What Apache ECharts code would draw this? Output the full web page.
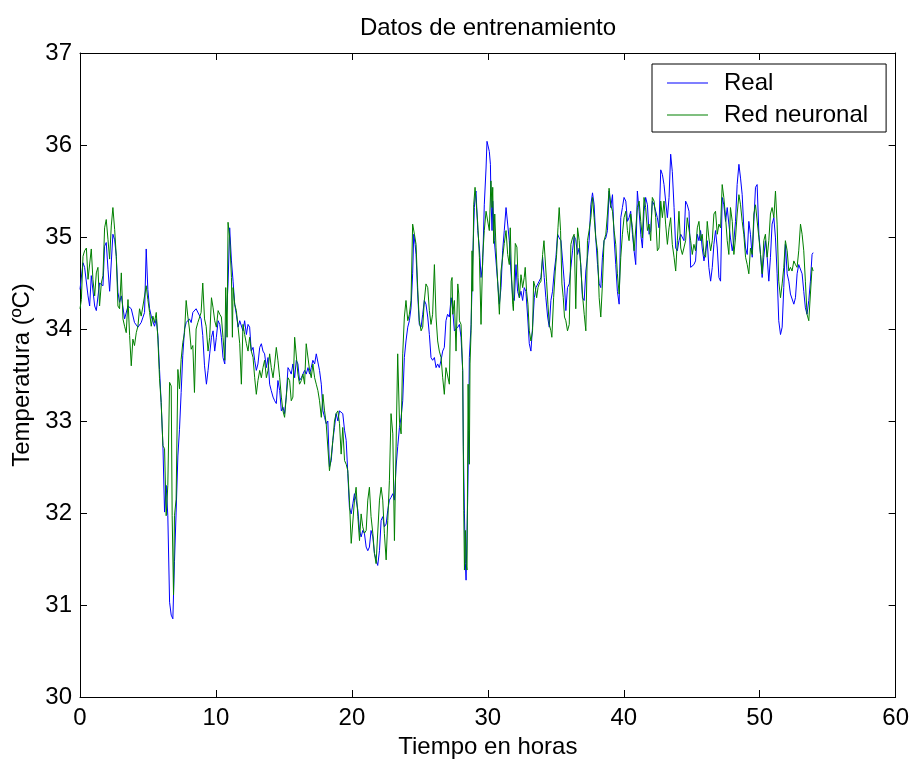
<!DOCTYPE html>
<html>
<head>
<meta charset="utf-8">
<script src="https://cdn.jsdelivr.net/npm/echarts@6/dist/echarts.min.js"></script>
<style>
html,body{margin:0;padding:0;background:#fff;}
#chart{width:912px;height:764px;}
</style>
</head>
<body>
<div id="chart"></div>
<script>
// ---- Data ----
var titleText = 'Datos de entrenamiento';
var xAxisName = 'Tiempo en horas';
var yAxisName = 'Temperatura (ºC)';
var seriesNames = ['Real', 'Red neuronal'];
var xTicks = [0, 10, 20, 30, 40, 50, 60];
var yTicks = [30, 31, 32, 33, 34, 35, 36, 37];

var realHours = [0,0.22,0.34,0.59,0.71,0.83,1.08,1.20,1.44,1.69,1.81,1.93,2.06,2.18,2.30,2.42,2.55,2.67,2.79,2.91,3.04,3.28,3.53,3.77,4.01,4.26,4.50,4.75,4.87,4.99,5.12,5.24,5.48,5.61,5.73,5.85,5.97,6.10,6.22,6.34,6.46,6.59,6.71,6.83,6.95,7.07,7.20,7.32,7.44,7.56,7.69,7.81,8.05,8.18,8.30,8.54,8.67,8.91,9.03,9.16,9.30,
9.42,9.54,9.67,9.79,9.91,10.03,10.16,10.28,10.40,10.52,10.65,10.77,10.89,11.01,11.14,11.26,11.38,11.50,11.63,11.75,11.87,11.99,12.11,12.24,12.36,12.48,12.60,12.73,12.85,12.97,13.09,13.22,13.34,13.46,13.58,13.71,13.83,13.95,14.07,14.20,14.32,14.44,14.56,14.69,14.81,14.93,15.05,15.17,15.30,15.42,15.54,15.66,15.79,15.91,16.03,16.15,16.28,16.40,16.52,16.64,16.77,16.89,17.01,17.13,17.26,17.38,17.50,17.62,17.75,17.87,17.99,18.11,18.23,
18.35,18.48,18.60,18.72,18.84,18.97,19.09,19.21,19.33,19.46,19.58,19.70,19.82,19.95,20.07,20.19,20.31,20.44,20.56,20.68,20.80,20.92,21.05,21.17,21.29,21.41,21.54,21.66,21.78,21.90,22.03,22.15,22.27,22.39,22.52,22.64,22.76,22.88,23.01,23.13,23.25,23.37,23.50,23.62,23.74,23.86,23.98,24.11,24.23,24.35,24.47,24.55,24.65,24.72,24.84,24.96,25.09,25.21,25.33,25.45,25.58,25.70,25.82,25.94,26.07,26.19,26.31,26.43,26.56,26.68,26.80,26.92,27.04,
27.17,27.30,27.42,27.54,27.66,27.79,27.91,28.03,28.15,28.20,28.28,28.35,28.40,28.47,28.52,28.59,28.64,28.77,28.89,29.01,29.08,29.13,29.26,29.38,29.50,29.62,29.74,29.87,29.94,30.04,30.11,30.19,30.23,30.31,30.36,30.48,30.60,30.72,30.85,30.97,31.09,31.21,31.34,31.46,31.58,31.70,31.83,31.95,32.07,32.19,32.32,32.44,32.56,32.68,32.80,32.93,33.05,33.17,33.29,33.42,33.54,33.66,33.78,33.91,34.03,34.15,34.27,34.40,34.52,34.64,34.76,34.89,35.01,35.13,35.25,35.38,35.50,35.62,35.74,35.86,35.99,
36.11,36.23,36.35,36.47,36.60,36.72,36.84,36.96,37.09,37.21,37.33,37.45,37.58,37.70,37.82,37.94,38.07,38.19,38.31,38.43,38.55,38.68,38.80,38.92,39.04,39.17,39.29,39.41,39.53,39.66,39.78,39.90,40.02,40.15,40.27,40.39,40.51,40.64,40.76,40.88,41.00,41.13,41.25,41.37,41.49,41.61,41.74,41.86,41.98,42.10,42.23,42.35,42.47,42.59,42.72,42.84,42.96,43.08,43.21,43.33,43.45,43.57,43.70,43.82,43.94,44.06,44.19,44.31,44.43,44.55,44.67,44.80,
44.92,45.04,45.16,45.28,45.41,45.53,45.65,45.77,45.90,46.02,46.14,46.26,46.39,46.51,46.63,46.75,46.88,47.00,47.12,47.24,47.36,47.49,47.61,47.73,47.85,47.98,48.10,48.22,48.34,48.47,48.59,48.71,48.83,48.96,49.08,49.20,49.32,49.45,49.57,49.69,49.81,49.94,50.06,50.18,50.30,50.42,50.55,50.67,50.79,50.91,51.04,51.16,51.28,51.40,51.53,51.65,51.77,51.89,52.02,52.14,52.26,52.38,52.51,52.63,52.75,52.87,53.00,53.12,53.24,53.36,53.48,53.61,53.73,53.85,53.93];

var realTemp = [34.43,34.72,34.67,34.36,34.25,34.58,34.25,34.20,34.50,34.47,34.90,34.94,34.65,34.41,34.41,35.03,34.97,34.79,34.40,34.29,34.36,34.11,34.25,34.22,34.07,34.02,34.07,34.18,34.87,34.43,34.22,34.14,34.03,34.11,33.93,33.56,33.20,32.73,32.01,32.30,31.97,31.03,30.89,30.85,31.47,32.01,32.62,32.91,33.31,33.71,34.00,34.07,34.11,34.07,34.18,34.22,34.20,34.11,33.93,33.60,33.40,
33.55,33.73,33.91,33.98,33.76,33.91,34.09,34.05,33.91,33.69,33.62,34.13,34.49,35.10,34.74,34.52,34.27,34.16,34.02,34.09,34.09,33.98,34.09,33.94,34.05,34.02,33.76,33.80,33.66,33.55,33.62,33.80,33.84,33.76,33.73,33.58,33.69,33.40,33.33,33.26,33.22,33.19,33.44,33.33,33.11,33.15,33.08,33.26,33.58,33.55,33.51,33.62,33.47,33.66,33.62,33.44,33.47,33.47,33.55,33.51,33.58,33.51,33.58,33.66,33.62,33.73,33.73,33.55,33.40,33.11,33.04,32.97,33.00,
32.50,32.57,32.79,32.93,33.08,33.00,33.11,33.13,33.08,32.90,32.79,32.43,32.06,31.99,32.10,32.21,32.14,32.03,31.81,31.74,31.81,31.78,31.63,31.59,31.63,31.81,31.74,31.56,31.49,31.43,31.59,31.92,31.96,31.85,31.88,32.03,32.14,32.17,32.21,32.14,32.50,32.72,32.93,33.04,33.22,33.69,33.87,34.02,34.09,34.23,34.60,35.03,34.92,34.81,34.38,34.05,34.02,34.16,34.31,34.27,34.13,33.94,33.69,33.66,33.69,33.58,33.62,33.58,33.66,33.76,33.80,34.09,34.16,
34.13,34.34,34.20,33.98,33.98,34.02,34.05,33.91,33.55,32.72,31.99,31.45,31.27,31.27,32.17,32.90,33.69,34.05,34.78,35.32,35.46,35.50,35.07,34.88,34.56,34.70,35.35,35.75,36.04,36.02,35.93,35.79,35.43,35.07,35.39,34.96,34.74,34.52,34.27,34.45,34.85,35.07,35.32,35.32,34.96,34.63,34.34,34.31,34.70,34.41,34.34,34.41,34.31,34.45,34.41,34.13,33.84,33.76,34.02,34.34,34.45,34.45,34.52,34.56,34.78,34.56,34.34,34.13,34.02,34.31,34.41,34.63,34.78,35.03,34.99,34.96,34.74,34.52,34.20,34.45,34.49,
34.67,34.85,35.01,34.97,34.81,34.88,34.70,34.34,34.31,34.63,34.78,34.96,35.35,35.48,35.35,34.99,34.70,34.49,34.45,34.78,34.96,34.99,35.07,35.50,35.32,35.46,34.99,34.70,34.41,34.27,35.21,35.32,35.43,35.39,35.17,35.21,35.28,35.03,34.85,34.70,35.50,35.28,35.03,34.88,35.28,35.43,35.35,35.03,35.07,35.39,35.35,35.28,35.21,35.10,35.73,35.68,35.57,35.39,35.21,35.43,35.90,35.71,35.32,34.88,34.85,34.96,35.03,35.03,34.96,35.39,35.35,35.28,
34.67,34.67,34.70,34.74,35.03,34.96,35.07,34.88,34.74,34.85,34.96,34.67,34.52,34.67,34.92,35.07,34.88,34.56,34.52,35.43,35.35,35.17,35.32,35.14,34.99,34.85,34.96,35.17,35.57,35.79,35.64,35.46,35.10,34.88,34.81,35.17,35.03,34.78,35.17,35.54,35.57,35.03,34.81,34.56,34.78,34.96,34.78,34.52,34.78,35.14,35.21,34.99,34.60,34.09,33.94,34.02,34.45,34.92,34.60,34.52,34.38,34.38,34.27,34.34,34.60,34.70,34.70,34.60,34.41,34.23,34.16,34.31,34.52,34.81,34.83];

var redHours = [0,0.10,0.22,0.34,0.47,0.59,0.83,0.95,1.08,1.20,1.32,1.44,1.57,1.69,1.81,1.93,2.06,2.18,2.30,2.42,2.55,2.67,2.79,2.91,3.04,3.16,3.28,3.40,3.53,3.65,3.77,3.89,4.01,4.14,4.26,4.38,4.50,4.63,4.75,4.87,4.99,5.12,5.24,5.36,5.48,5.61,5.73,5.85,5.97,6.10,6.22,6.34,6.46,6.59,6.71,6.78,6.88,6.95,7.07,7.20,7.32,7.44,7.56,7.69,7.81,7.93,8.05,8.18,8.30,8.42,8.54,8.67,8.91,9.03,9.16,9.28,
9.42,9.54,9.67,9.79,9.91,10.03,10.16,10.28,10.40,10.52,10.65,10.72,10.82,10.89,11.01,11.14,11.21,11.26,11.38,11.50,11.63,11.75,11.87,11.99,12.11,12.24,12.36,12.48,12.60,12.73,12.85,12.97,13.09,13.22,13.34,13.46,13.58,13.71,13.83,13.95,14.07,14.20,14.32,14.44,14.56,14.69,14.81,14.93,15.05,15.17,15.30,15.42,15.54,15.66,15.79,15.91,16.03,16.15,16.28,16.40,16.52,16.64,16.77,16.89,17.01,17.13,17.26,17.38,17.50,17.62,17.75,17.87,17.99,18.11,
18.35,18.48,18.60,18.72,18.84,18.97,19.09,19.21,19.33,19.46,19.58,19.70,19.82,19.95,20.07,20.19,20.31,20.44,20.56,20.68,20.80,20.92,21.05,21.17,21.29,21.41,21.54,21.66,21.78,21.90,22.03,22.15,22.27,22.39,22.52,22.64,22.76,22.88,23.01,23.13,23.25,23.37,23.50,23.62,23.74,23.86,23.98,24.11,24.23,24.35,24.47,24.60,24.72,24.84,24.96,25.09,25.21,25.33,25.45,25.58,25.70,25.82,25.94,26.07,26.19,26.31,26.43,26.56,26.68,26.80,26.92,
27.17,27.30,27.37,27.42,27.54,27.66,27.79,27.86,27.91,28.03,28.15,28.23,28.28,28.35,28.40,28.47,28.55,28.59,28.64,28.69,28.77,28.84,28.89,28.96,29.06,29.18,29.26,29.38,29.50,29.62,29.74,29.87,29.99,30.11,30.23,30.31,30.36,30.43,30.51,30.60,30.72,30.85,30.97,31.09,31.21,31.34,31.46,31.58,31.65,31.73,31.83,31.88,32.02,32.14,32.22,32.32,32.44,32.56,32.68,32.75,32.85,32.95,33.05,33.17,33.29,33.37,33.49,33.59,33.69,33.78,33.91,34.03,34.13,34.23,34.32,34.42,34.52,34.64,34.71,34.84,34.96,35.06,35.16,35.25,35.35,35.45,35.55,35.64,35.74,35.86,35.99,
36.11,36.23,36.35,36.47,36.60,36.72,36.84,36.96,37.09,37.21,37.33,37.45,37.58,37.70,37.82,37.94,38.07,38.19,38.31,38.43,38.55,38.68,38.80,38.92,39.04,39.17,39.29,39.41,39.53,39.66,39.78,39.90,40.02,40.15,40.27,40.39,40.51,40.64,40.76,40.88,41.00,41.13,41.25,41.37,41.49,41.61,41.74,41.86,41.98,42.10,42.23,42.35,42.47,42.59,42.72,42.84,42.96,43.08,43.21,43.33,43.45,43.57,43.70,43.82,43.94,44.06,44.19,44.31,44.43,44.55,44.67,
44.92,45.04,45.16,45.28,45.41,45.53,45.65,45.77,45.90,46.02,46.14,46.26,46.39,46.51,46.63,46.75,46.88,47.00,47.12,47.24,47.36,47.49,47.61,47.73,47.85,47.98,48.10,48.22,48.34,48.47,48.59,48.71,48.83,48.96,49.08,49.20,49.32,49.45,49.57,49.69,49.81,49.94,50.06,50.18,50.30,50.42,50.55,50.67,50.79,50.91,51.04,51.16,51.28,51.40,51.53,51.65,51.77,51.89,52.02,52.14,52.26,52.38,52.51,52.63,52.75,52.87,53.00,53.12,53.24,53.36,53.48,53.61,53.73,53.85,53.93];

var redTemp = [34.22,34.32,34.79,34.85,34.88,34.54,34.87,34.54,34.36,34.61,34.67,34.25,34.50,34.58,35.10,35.19,34.97,34.76,35.12,35.32,35.08,34.79,34.25,34.22,34.61,34.11,34.03,33.96,34.32,33.93,33.60,33.89,33.82,33.96,34.03,34.22,34.14,34.25,34.25,34.47,34.32,34.18,34.03,34.14,34.07,34.18,33.89,33.46,33.20,32.73,32.70,31.97,32.30,33.42,33.38,31.97,31.11,31.97,32.15,33.56,33.35,33.67,33.85,33.96,34.31,34.14,34.00,33.78,33.82,33.31,34.00,34.07,34.18,34.50,34.11,34.03,
33.76,33.91,34.34,34.23,34.09,34.02,34.20,34.16,34.13,33.91,33.66,34.45,33.91,35.16,34.99,34.56,33.91,34.45,34.27,34.20,34.02,33.84,33.40,34.05,33.94,33.84,33.76,33.91,33.76,33.69,33.47,33.29,33.44,33.55,33.47,33.58,33.66,33.47,33.55,33.73,33.58,33.47,33.62,33.80,33.66,33.47,33.26,33.11,33.04,33.26,33.47,33.44,33.22,33.26,33.91,33.93,33.51,33.40,33.44,33.51,33.40,33.84,33.85,33.55,33.47,33.62,33.47,33.40,33.33,33.22,33.04,33.29,33.11,32.97,
32.46,32.61,32.79,33.00,33.08,33.11,32.97,32.64,32.93,32.57,32.53,32.46,32.14,31.67,31.67,32.14,32.28,31.96,31.70,31.99,31.85,31.78,31.81,32.14,32.28,31.96,31.78,31.56,31.45,31.45,32.14,32.28,32.14,31.78,31.49,31.92,32.35,33.08,32.86,31.70,31.70,33.73,33.00,32.86,33.73,34.13,34.31,34.09,34.16,34.31,35.14,35.03,34.92,34.45,34.09,33.98,34.02,34.31,34.49,34.45,34.20,34.05,34.16,34.70,34.13,33.87,33.76,33.69,33.47,33.29,33.58,
33.40,34.52,34.56,34.16,34.31,33.76,34.49,34.38,34.09,34.05,33.55,32.03,31.38,31.81,31.45,31.38,33.40,32.90,32.53,33.62,33.98,34.85,34.41,35.35,35.54,35.54,35.14,34.78,34.05,34.78,35.07,35.28,35.28,35.07,35.61,35.32,35.54,34.93,35.25,34.89,34.52,34.16,34.63,34.78,34.93,35.07,34.81,34.70,35.10,34.63,34.27,34.20,34.93,34.89,34.56,34.34,34.59,34.45,34.56,34.67,34.41,34.27,33.98,33.87,33.98,34.52,34.45,34.34,34.45,34.49,34.52,34.81,34.96,34.96,34.52,34.27,34.05,33.98,33.91,34.34,34.63,34.81,35.10,35.32,35.07,34.49,34.34,34.13,34.09,33.98,34.05,
34.92,34.99,35.03,34.22,35.10,34.96,34.67,34.38,34.16,33.98,34.96,35.07,35.21,35.43,35.21,34.99,34.85,34.34,34.13,34.49,34.96,35.03,35.25,35.53,35.35,35.28,35.07,34.92,34.60,34.38,34.78,35.03,35.21,35.28,35.07,34.96,35.25,35.10,34.85,34.85,35.32,35.39,35.17,34.99,35.43,35.32,35.07,35.14,34.96,35.43,35.39,35.21,34.85,34.88,35.39,35.21,35.39,35.14,34.92,35.10,35.21,34.92,34.78,34.63,34.96,35.28,34.88,34.81,34.81,34.96,35.21,
34.96,34.81,34.92,34.85,35.10,35.17,34.96,35.03,34.81,34.78,35.17,34.99,34.85,34.96,35.25,35.28,35.03,35.14,35.10,35.57,35.43,35.21,34.96,34.81,35.32,35.17,34.81,34.99,35.25,35.46,35.35,35.17,35.03,34.78,34.70,34.60,34.88,34.81,35.25,35.35,35.35,34.99,34.81,34.60,34.96,35.03,34.78,34.96,35.25,35.32,35.21,35.50,35.14,34.52,34.34,34.49,34.67,34.96,34.85,34.63,34.67,34.63,34.74,34.70,34.67,34.85,35.14,35.03,34.85,34.52,34.16,34.09,34.38,34.67,34.63];

// ---- Chart ----
function zip(a, b) { var out = []; for (var i = 0; i < Math.min(a.length, b.length); i++) out.push([a[i], b[i]]); return out; }

var FONT = "'Liberation Sans', Arial, Helvetica, sans-serif";
var chart = echarts.init(document.getElementById('chart'), null, {renderer: 'canvas'});

function xAxisCfg(pos, showLabels) {
  return {
    type: 'value', position: pos, min: xTicks[0], max: xTicks[xTicks.length - 1],
    interval: xTicks[1] - xTicks[0],
    axisLine: {show: true, onZero: false, lineStyle: {color: '#000', width: 1}},
    axisTick: {show: true, inside: true, length: 7, lineStyle: {color: '#000', width: 1}},
    axisLabel: {show: showLabels, fontSize: 24, fontFamily: FONT, color: '#000', margin: 9},
    splitLine: {show: false},
    name: showLabels ? xAxisName : '', nameLocation: 'middle', nameGap: 32,
    nameTextStyle: {fontSize: 24, fontFamily: FONT, color: '#000'}
  };
}
function yAxisCfg(pos, showLabels) {
  return {
    type: 'value', position: pos, min: yTicks[0], max: yTicks[yTicks.length - 1],
    interval: yTicks[1] - yTicks[0],
    axisLine: {show: true, onZero: false, lineStyle: {color: '#000', width: 1}},
    axisTick: {show: true, inside: true, length: 7, lineStyle: {color: '#000', width: 1}},
    axisLabel: {show: showLabels, fontSize: 24, fontFamily: FONT, color: '#000', margin: 8},
    splitLine: {show: false},
    name: showLabels ? yAxisName : '', nameLocation: 'middle', nameGap: 43,
    nameTextStyle: {fontSize: 24, fontFamily: FONT, color: '#000'}
  };
}

chart.setOption({
  animation: false,
  backgroundColor: '#fff',
  title: {
    text: titleText, left: 488, top: 16, padding: 0, textAlign: 'center',
    textStyle: {fontSize: 24, fontWeight: 'normal', fontFamily: FONT, color: '#000'}
  },
  grid: {left: 80, right: 15, top: 53, bottom: 67, containLabel: false},
  legend: {
    orient: 'vertical', left: 652, top: 64,
    padding: [7, 18, 5, 15], itemGap: 8, itemWidth: 41, itemHeight: 1,
    borderColor: '#000', borderWidth: 1, backgroundColor: '#fff',
    selectedMode: false,
    data: [{name: seriesNames[0], icon: 'rect'}, {name: seriesNames[1], icon: 'rect'}],
    textStyle: {fontSize: 24, fontFamily: FONT, color: '#000', lineHeight: 24, padding: [0, 0, 0, 11]}
  },
  xAxis: [xAxisCfg('bottom', true), xAxisCfg('top', false)],
  yAxis: [yAxisCfg('left', true), yAxisCfg('right', false)],
  series: [
    {name: seriesNames[0], type: 'line', data: zip(realHours, realTemp), showSymbol: false, symbol: 'none',
     lineStyle: {color: '#0000ff', width: 1}, itemStyle: {color: '#0000ff'}, z: 2},
    {name: seriesNames[1], type: 'line', data: zip(redHours, redTemp), showSymbol: false, symbol: 'none',
     lineStyle: {color: '#008000', width: 1}, itemStyle: {color: '#008000'}, z: 3}
  ]
});
</script>
</body>
</html>
